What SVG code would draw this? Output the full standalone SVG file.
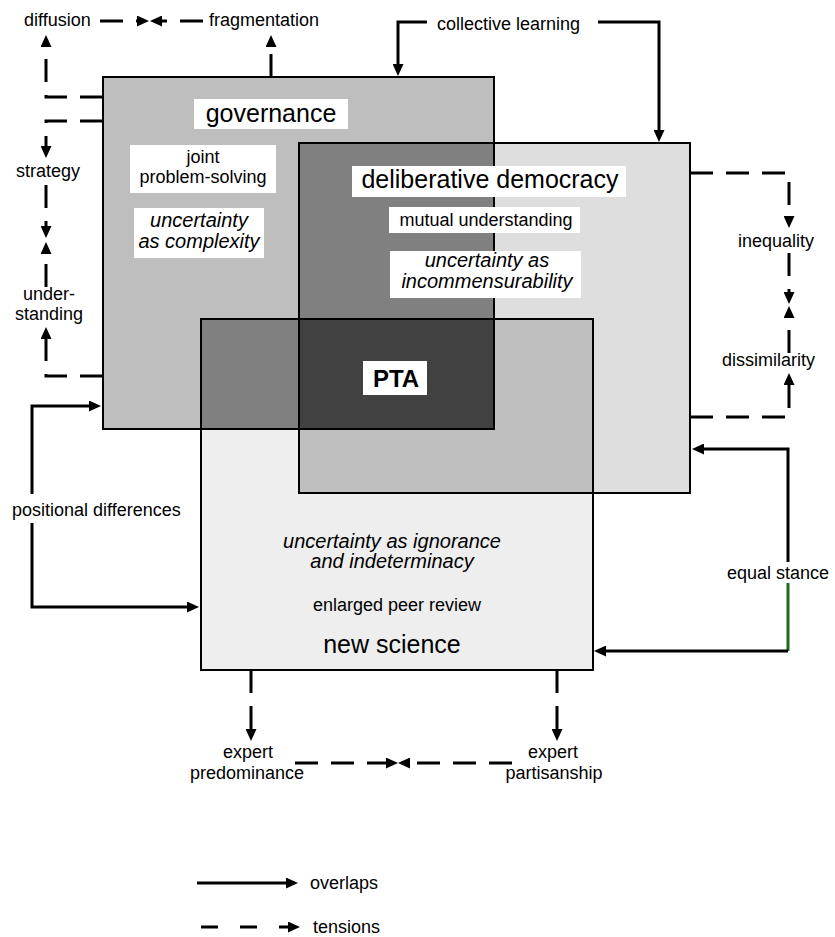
<svg xmlns="http://www.w3.org/2000/svg" width="835" height="937" viewBox="0 0 835 937">
<style>
text{font-family:"Liberation Sans",Arial,sans-serif;fill:#000}
.lbl{font-size:18px}
.big{font-size:25px}
.it{font-size:20px;font-style:italic}
.mid{text-anchor:middle}
.box{fill:#fff}
.edge{fill:none;stroke:#000;stroke-width:2}
.solid{fill:none;stroke:#000;stroke-width:3}
.dash{fill:none;stroke:#000;stroke-width:3;stroke-dasharray:23 13}
.head{fill:none;stroke:none}
</style>
<defs>
<marker id="ah" viewBox="0 0 12 11" refX="0" refY="5.5" markerWidth="12" markerHeight="11" markerUnits="userSpaceOnUse" orient="auto">
<path d="M0,0 L12,5.5 L0,11 z" fill="#000"/>
</marker>
</defs>
<g id="fills">
<rect x="103" y="77" width="391" height="352" fill="#bebebe"/>
<rect x="299" y="143" width="391" height="350" fill="#dedede"/>
<rect x="201" y="319" width="392" height="351" fill="#eeeeee"/>
<rect x="299" y="143" width="195" height="286" fill="#808080"/>
<rect x="201" y="319" width="293" height="110" fill="#808080"/>
<rect x="299" y="319" width="294" height="174" fill="#bebebe"/>
<rect x="299" y="319" width="195" height="110" fill="#414141"/>
</g>
<g id="governance">
<rect class="edge" x="103" y="77" width="391" height="352"/>
<rect class="box" x="194" y="99" width="154" height="30"/>
<text class="big mid" x="271" y="122">governance</text>
<rect class="box" x="130" y="145" width="146" height="48"/>
<text class="lbl mid" x="203" y="163">joint</text>
<text class="lbl mid" x="203" y="183">problem-solving</text>
<rect class="box" x="134" y="208" width="130" height="50"/>
<text class="it mid" x="199" y="227">uncertainty</text>
<text class="it mid" x="199" y="248">as complexity</text>
</g>
<g id="deliberative-democracy">
<rect class="edge" x="299" y="143" width="391" height="350"/>
<rect class="box" x="352" y="166" width="274" height="31"/>
<text class="big mid" x="490" y="188">deliberative democracy</text>
<rect class="box" x="389" y="207" width="191" height="26"/>
<text class="lbl mid" x="486" y="226">mutual understanding</text>
<rect class="box" x="390" y="251" width="191" height="47"/>
<text class="it mid" x="487" y="267">uncertainty as</text>
<text class="it mid" x="487" y="288">incommensurability</text>
</g>
<g id="new-science">
<rect class="edge" x="201" y="319" width="392" height="351"/>
<text class="it mid" x="392" y="548">uncertainty as ignorance</text>
<text class="it mid" x="392" y="568">and indeterminacy</text>
<text class="lbl mid" x="397" y="611">enlarged peer review</text>
<text class="big mid" x="392" y="653">new science</text>
</g>
<g id="pta">
<rect class="box" x="363" y="361" width="64" height="34"/>
<text class="mid" x="396" y="387" style="font-size:24px;font-weight:bold">PTA</text>
</g>
<g id="labels">
<text class="lbl" x="24" y="26">diffusion</text>
<text class="lbl" x="209" y="26">fragmentation</text>
<text class="lbl" x="437" y="30">collective learning</text>
<text class="lbl mid" x="48" y="177">strategy</text>
<text class="lbl mid" x="49" y="300">under-</text>
<text class="lbl mid" x="49" y="320">standing</text>
<text class="lbl" x="12" y="516">positional differences</text>
<text class="lbl" x="738" y="247">inequality</text>
<text class="lbl" x="722" y="366">dissimilarity</text>
<text class="lbl" x="727" y="579">equal stance</text>
<text class="lbl mid" x="248" y="758">expert</text>
<text class="lbl mid" x="247" y="779">predominance</text>
<text class="lbl mid" x="553" y="758">expert</text>
<text class="lbl mid" x="554" y="779">partisanship</text>
</g>
<g id="connectors">
<path class="dash" d="M103,97 H46 V47" marker-end="url(#ah)"/>
<path class="dash" d="M103,121 H46 V146" marker-end="url(#ah)"/>
<path class="solid" d="M271,77 V54"/>
<path class="head" d="M271,48 V47" marker-end="url(#ah)"/>
<path class="dash" d="M100,21 H137" marker-end="url(#ah)"/>
<path class="dash" d="M203,21 H162" marker-end="url(#ah)"/>
<path class="dash" d="M46,185 V226" marker-end="url(#ah)"/>
<path class="dash" d="M46,287 V254" marker-end="url(#ah)"/>
<path class="dash" d="M103,376 H46 V339" marker-end="url(#ah)"/>
<path class="solid" d="M427,22 H398 V64" marker-end="url(#ah)"/>
<path class="solid" d="M598,22 H659 V130" marker-end="url(#ah)"/>
<path class="solid" d="M32,494 V406 H89" marker-end="url(#ah)"/>
<path class="solid" d="M32,523 V607 H187" marker-end="url(#ah)"/>
<path class="dash" d="M690,173 H789 V216" marker-end="url(#ah)"/>
<path class="dash" d="M789,253 V292" marker-end="url(#ah)"/>
<path class="dash" d="M789,353 V318" marker-end="url(#ah)"/>
<path class="dash" d="M690,417 H789 V385" marker-end="url(#ah)"/>
<path class="solid" d="M788,562 V449 H704" marker-end="url(#ah)"/>
<path d="M788,583 V651" fill="none" stroke="#1e6b1e" stroke-width="3"/>
<path class="solid" d="M788,651 H606" marker-end="url(#ah)"/>
<path class="dash" d="M251,670 V729" marker-end="url(#ah)"/>
<path class="dash" d="M557,670 V729" marker-end="url(#ah)"/>
<path class="dash" d="M295,763 H386" marker-end="url(#ah)"/>
<path class="dash" d="M512,763 H410" marker-end="url(#ah)"/>
</g>
<g id="legend">
<path class="solid" d="M197,883 H286" marker-end="url(#ah)"/>
<text class="lbl" x="310" y="889">overlaps</text>
<path class="dash" d="M201,927 H288" style="stroke-dasharray:17 22" marker-end="url(#ah)"/>
<text class="lbl" x="313" y="933">tensions</text>
</g>
</svg>
